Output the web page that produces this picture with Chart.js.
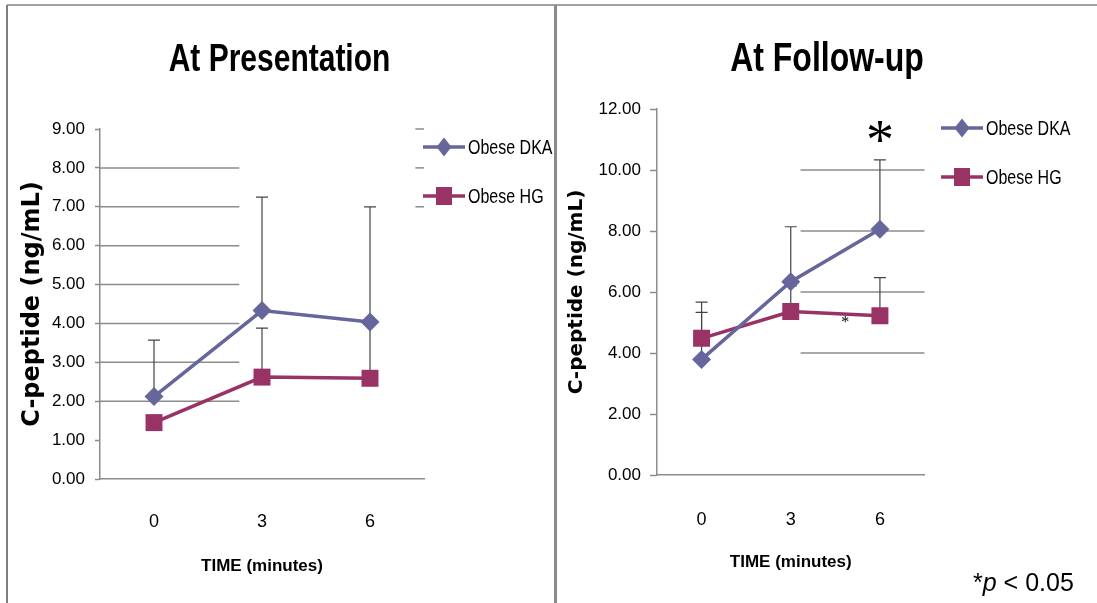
<!DOCTYPE html>
<html>
<head>
<meta charset="utf-8">
<script src="https://cdn.jsdelivr.net/npm/chart.js@4.4.0/dist/chart.umd.min.js"></script>
<style>
  body { margin: 0; background: #fff; width: 1097px; height: 603px; overflow: hidden; position: relative; }
  .line { position: absolute; }
  canvas { position: absolute; top: 0; }
  #note { position: absolute; left: 973px; top: 568px; font: 25px "Liberation Sans", Arial, sans-serif; color: #000; white-space: nowrap; }
</style>
</head>
<body>
<div class="line" style="left:7px;top:4px;width:1090px;height:2px;background:#a3a3a3"></div>
<div class="line" style="left:6px;top:5px;width:2px;height:598px;background:#7f7f7f"></div>
<div class="line" style="left:554px;top:5px;width:3px;height:598px;background:#8a8a8a"></div>
<canvas id="pres" width="555" height="603" style="left:0"></canvas>
<canvas id="follow" width="540" height="603" style="left:557px"></canvas>
<div id="note">*<i>p</i> &lt; 0.05</div>
<script>
// time points (minutes)
const timeLabels = ['0', '3', '6'];

// At presentation: means and upper error bar ends
const presDka = [2.12, 4.33, 4.04];
const presHg = [1.45, 2.62, 2.59];
const presDkaUpper = [3.57, 7.25, 7.00];
const presHgUpper = [null, 3.88, 4.00];

// At follow-up
const fuDka = [3.79, 6.34, 8.06];
const fuHg = [4.48, 5.36, 5.22];
const fuDkaUpper = [5.67, 8.14, 10.33];
const fuHgUpper = [5.33, 6.20, 6.47];

const seriesNames = ['Obese DKA', 'Obese HG'];
const dkaColor = '#66669c';
const hgColor = '#993366';
const sans = '"Liberation Sans", Arial, sans-serif';

function drawMarker(ctx, style, cx, cy, color) {
    ctx.fillStyle = color;
    ctx.beginPath();
    if (style === 'rectRot') {
        ctx.moveTo(cx - 7.5, cy);
        ctx.lineTo(cx, cy - 9.5);
        ctx.lineTo(cx + 7.5, cy);
        ctx.lineTo(cx, cy + 9.5);
        ctx.closePath();
    } else {
        ctx.rect(cx - 8, cy - 9, 16, 18);
    }
    ctx.fill();
}

// text squeezed the way the source picture is (taller than wide)
function tallText(ctx, text, x, y, stretch) {
    ctx.save();
    ctx.translate(x, y);
    ctx.scale(1, stretch);
    ctx.fillText(text, 0, 0);
    ctx.restore();
}

// partial gridlines, error bars, titles, legend and asterisks
const decor = {
    id: 'decor',
    beforeDatasetsDraw(chart, args, opts) {
        const ctx = chart.ctx, xs = chart.scales.x, ys = chart.scales.y;
        ctx.save();
        ctx.strokeStyle = '#8c8c8c';
        ctx.lineWidth = 1.5;
        opts.grid.forEach(seg => {
            seg.values.forEach(v => {
                const py = ys.getPixelForValue(v);
                ctx.beginPath();
                ctx.moveTo(xs.getPixelForValue(seg.from), py);
                ctx.lineTo(xs.getPixelForValue(seg.to), py);
                ctx.stroke();
            });
        });
        ctx.strokeStyle = '#444';
        ctx.lineWidth = 1.2;
        chart.data.datasets.forEach(ds => {
            ds.upper.forEach((u, j) => {
                if (u == null) return;
                const px = xs.getPixelForValue(j);
                const y0 = ys.getPixelForValue(ds.data[j]);
                const y1 = ys.getPixelForValue(u);
                ctx.beginPath();
                ctx.moveTo(px, y0);
                ctx.lineTo(px, y1);
                ctx.moveTo(px - 6, y1);
                ctx.lineTo(px + 6, y1);
                ctx.stroke();
            });
        });
        ctx.restore();
    },
    afterDraw(chart, args, opts) {
        const ctx = chart.ctx, xs = chart.scales.x, ys = chart.scales.y;
        ctx.save();
        ctx.fillStyle = '#000';
        ctx.textAlign = 'center';
        ctx.textBaseline = 'alphabetic';
        ctx.font = 'bold ' + opts.titleSize + 'px ' + sans;
        tallText(ctx, opts.title, chart.width / 2 + opts.titleShift, 71, 1.28);

        // legend
        chart.data.datasets.forEach((ds, i) => {
            const ly = opts.legendY[i];
            ctx.strokeStyle = ds.borderColor;
            ctx.lineWidth = 3.5;
            ctx.beginPath();
            ctx.moveTo(opts.legendX, ly);
            ctx.lineTo(opts.legendX + 42, ly);
            ctx.stroke();
            drawMarker(ctx, ds.pointStyle, opts.legendX + 21, ly, ds.borderColor);
            ctx.fillStyle = '#000';
            ctx.font = '16px ' + sans;
            ctx.textAlign = 'left';
            ctx.textBaseline = 'middle';
            tallText(ctx, ds.label, opts.legendX + 45, ly + 1, 1.3);
        });

        (opts.stars || []).forEach(s => {
            ctx.fillStyle = '#000';
            ctx.textAlign = 'center';
            ctx.textBaseline = 'middle';
            ctx.font = s.font;
            ctx.fillText('*', xs.getPixelForValue(s.x), ys.getPixelForValue(s.y));
        });
        ctx.restore();
    }
};

function makeChart(id, dka, hg, dkaUp, hgUp, cfg) {
    const ctx = document.getElementById(id).getContext('2d');
    return new Chart(ctx, {
        type: 'line',
        data: {
            labels: timeLabels,
            datasets: [{
                label: seriesNames[0],
                data: dka,
                upper: dkaUp,
                borderColor: dkaColor,
                backgroundColor: dkaColor,
                borderWidth: 3.5,
                pointStyle: 'rectRot',
                pointRadius: 9.5,
                pointBorderWidth: 0,
                tension: 0
            }, {
                label: seriesNames[1],
                data: hg,
                upper: hgUp,
                borderColor: hgColor,
                backgroundColor: hgColor,
                borderWidth: 3.5,
                pointStyle: 'rect',
                pointRadius: 12,
                pointBorderWidth: 0,
                tension: 0
            }]
        },
        options: {
            responsive: false,
            animation: false,
            layout: { padding: { top: cfg.top, right: cfg.right, left: 0, bottom: 0 } },
            plugins: {
                legend: { display: false },
                tooltip: { enabled: false },
                decor: cfg.decor
            },
            scales: {
                x: {
                    offset: true,
                    grid: { display: false, drawTicks: false },
                    border: { color: '#8c8c8c', width: 1.5 },
                    ticks: { color: '#000', font: { family: sans, size: 18 }, padding: cfg.xPad },
                    title: {
                        display: true,
                        text: 'TIME (minutes)',
                        color: '#000',
                        font: { family: sans, size: 17, weight: 'bold' },
                        padding: { top: 0, bottom: cfg.xTitlePad }
                    },
                    afterFit: s => { s.height = cfg.xHeight; }
                },
                y: {
                    min: 0,
                    max: cfg.yMax,
                    grid: { drawOnChartArea: false, tickLength: cfg.tick, tickColor: '#8c8c8c', tickWidth: 1.5 },
                    border: { color: '#8c8c8c', width: 1.5 },
                    ticks: {
                        stepSize: cfg.yStep,
                        color: '#000',
                        padding: cfg.yPad,
                        font: { family: sans, size: 17 },
                        callback: v => v.toFixed(2)
                    },
                    title: {
                        display: true,
                        text: 'C-peptide (ng/mL)',
                        color: '#000',
                        font: { family: '"DejaVu Sans", sans-serif', size: cfg.yTitleSize, weight: 'bold' },
                        padding: { top: cfg.yTitlePad, bottom: 0 }
                    },
                    afterFit: s => { s.width = 100; }
                }
            }
        },
        plugins: [decor]
    });
}

makeChart('pres', presDka, presHg, presDkaUpper, presHgUpper, {
    top: 129, right: 131, xHeight: 124, xPad: 32, xTitlePad: 26,
    yMax: 9, yStep: 1, tick: 5, yPad: 10, yTitleSize: 24, yTitlePad: 18,
    decor: {
        title: 'At Presentation', titleSize: 30, titleShift: 2,
        grid: [{ values: [2, 3, 4, 5, 6, 7, 8], from: -0.5, to: 0.79 },
               { values: [7, 8, 9], from: 2.42, to: 2.5 }],
        legendX: 423, legendY: [147, 196]
    }
});

makeChart('follow', fuDka, fuHg, fuDkaUpper, fuHgUpper, {
    top: 109, right: 172.5, xHeight: 128, xPad: 34, xTitlePad: 30,
    yMax: 12, yStep: 2, tick: 7, yPad: 9, yTitleSize: 20, yTitlePad: 8,
    decor: {
        title: 'At Follow-up', titleSize: 32, titleShift: 0,
        grid: [{ values: [4, 6, 8, 10], from: 1.11, to: 2.5 }],
        legendX: 384, legendY: [128, 177],
        stars: [{ x: 2, y: 10.85, font: '56px "Liberation Serif", serif' },
                { x: 1.61, y: 5.0, font: '16px "Liberation Serif", serif' }]
    }
});
</script>
</body>
</html>
